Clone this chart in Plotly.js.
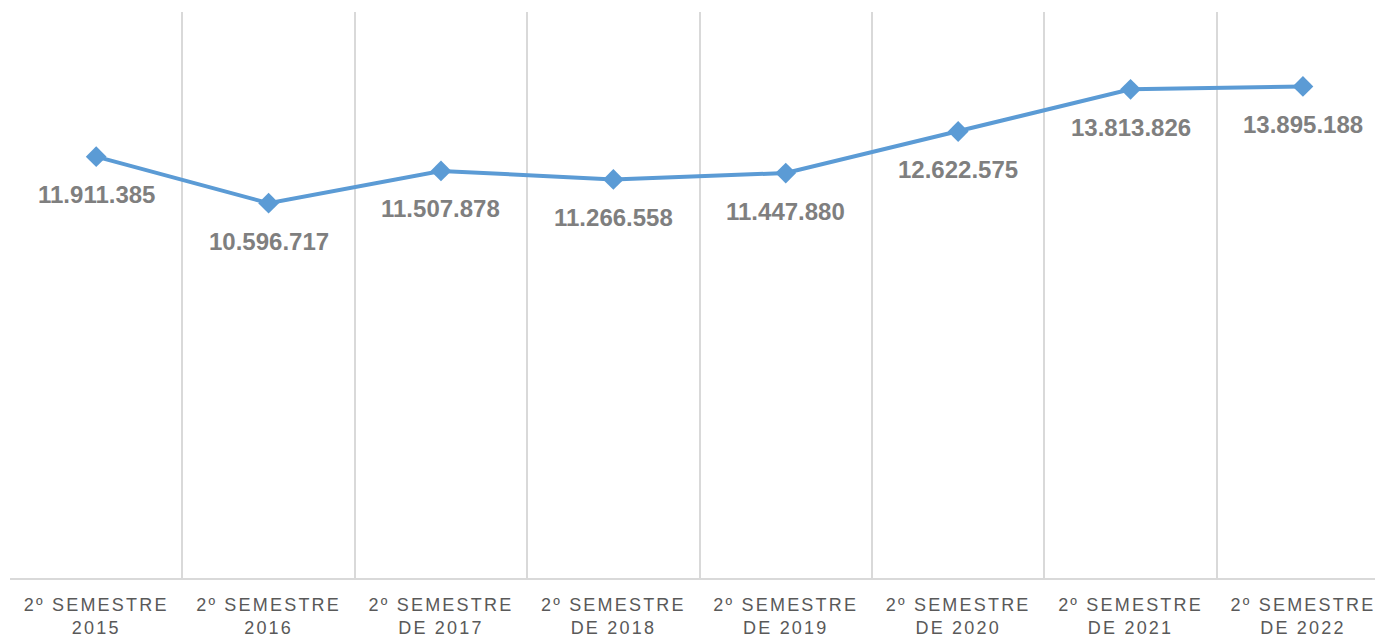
<!DOCTYPE html>
<html>
<head>
<meta charset="utf-8">
<script src="https://cdn.plot.ly/plotly-3.0.1.min.js"></script>
<style>
  html, body { margin: 0; padding: 0; background: #fff; }
  #chart { width: 1375px; height: 641px; }
  .xtick text { letter-spacing: 2.2px; }
</style>
</head>
<body>
<div id="chart"></div>
<script>
const categories = [
  "2º SEMESTRE<br>2015",
  "2º SEMESTRE<br>2016",
  "2º SEMESTRE<br>DE 2017",
  "2º SEMESTRE<br>DE 2018",
  "2º SEMESTRE<br>DE 2019",
  "2º SEMESTRE<br>DE 2020",
  "2º SEMESTRE<br>DE 2021",
  "2º SEMESTRE<br>DE 2022"
];
const values = [11911385, 10596717, 11507878, 11266558, 11447880, 12622575, 13813826, 13895188];

function fmt(v) {
  return String(v).replace(/\B(?=(\d{3})+(?!\d))/g, ".");
}

const trace = {
  x: categories,
  y: values,
  type: "scatter",
  mode: "lines+markers",
  line: { color: "#5b9bd5", width: 4 },
  marker: { symbol: "diamond", size: 16, color: "#5b9bd5" },
  hoverinfo: "x+y"
};

const annotations = categories.map((c, i) => ({
  x: c,
  y: values[i],
  xref: "x",
  yref: "y",
  text: "<b>" + fmt(values[i]) + "</b>",
  showarrow: false,
  yshift: -38,
  font: { family: "Liberation Sans, Arial, sans-serif", size: 24, color: "#7f7f7f" }
}));

const layout = {
  width: 1375,
  height: 641,
  margin: { l: 10, r: 0, t: 12, b: 63 },
  paper_bgcolor: "#ffffff",
  plot_bgcolor: "#ffffff",
  showlegend: false,
  xaxis: {
    type: "category",
    range: [-0.5, 7.418],
    tickson: "boundaries",
    showgrid: true,
    gridcolor: "#d9d9d9",
    gridwidth: 2,
    showline: true,
    linecolor: "#d9d9d9",
    linewidth: 2,
    ticks: "",
    ticklen: 0,
    ticklabelstandoff: 9,
    tickfont: { family: "Liberation Sans, Arial, sans-serif", size: 18, color: "#595959" },
    fixedrange: true
  },
  yaxis: {
    range: [0, 16000000],
    showgrid: false,
    zeroline: false,
    showticklabels: false,
    showline: false,
    fixedrange: true
  },
  annotations: annotations
};

Plotly.newPlot("chart", [trace], layout, { displayModeBar: false, staticPlot: true });
</script>
</body>
</html>
